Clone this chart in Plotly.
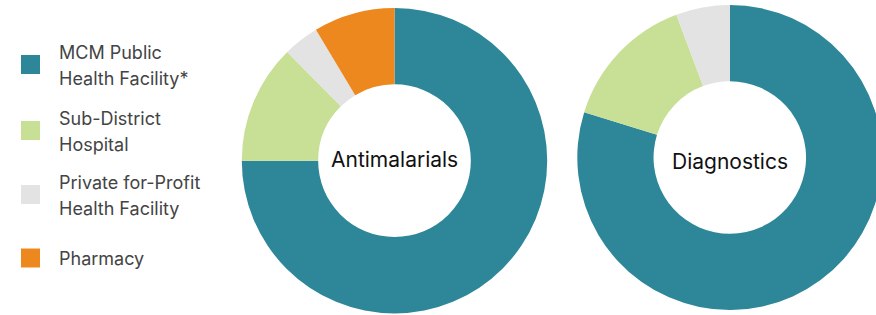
import plotly.graph_objects as go

categories = ["MCM Public<br>Health Facility*", "Sub-District<br>Hospital",
              "Private for-Profit<br>Health Facility", "Pharmacy"]
antimalarials = [75.0, 12.6, 3.8, 8.6]
diagnostics = [79.8, 14.5, 5.7, 0.0]
chart_titles = ["Antimalarials", "Diagnostics"]
colors = ["#2E8799", "#C8DF96", "#E3E3E3", "#EC881D"]

W, H = 884, 315
FONT = "Inter, Roboto, sans-serif"

fig = go.Figure()

# pie geometry (pixels): centre x, centre y (from top), radius, label y
geoms = [(394.5, 160.7, 152.7, 159.5), (729.8, 157.5, 152.5, 161.0)]
for vals, title, (cx, cy, r, ty) in zip([antimalarials, diagnostics], chart_titles, geoms):
    xd = [(cx - r) / W, (cx + r) / W]
    yc = 1 - cy / H
    hh = min(yc, 1 - yc)
    yd = [yc - hh, yc + hh]
    fig.add_trace(go.Pie(
        labels=categories, values=vals, hole=0.5, sort=False,
        direction="clockwise", rotation=0,
        marker=dict(colors=colors, line=dict(width=0)),
        textinfo="none", hoverinfo="label+percent", showlegend=False,
        domain=dict(x=xd, y=yd),
    ))
    fig.add_annotation(x=cx / W, y=1 - ty / H, xref="paper", yref="paper",
                       text=title, showarrow=False, xanchor="center", yanchor="middle",
                       font=dict(family=FONT, size=21, color="#111111"))

# custom legend
leg_centers = [64.5, 130.5, 194.5, 258.0]
for cat, col, yc in zip(categories, colors, leg_centers):
    fig.add_shape(type="rect", xref="paper", yref="paper",
                  x0=21 / W, x1=40 / W, y0=1 - (yc + 9.5) / H, y1=1 - (yc - 9.5) / H,
                  fillcolor=col, line=dict(width=0))
    lines = cat.split("<br>")
    n = len(lines)
    for i, ln in enumerate(lines):
        ly = yc + (i - (n - 1) / 2) * 26 + 0.8
        fig.add_annotation(x=57 / W, y=1 - ly / H, xref="paper", yref="paper",
                           text=ln, showarrow=False, xanchor="left", yanchor="middle",
                           align="left",
                           font=dict(family=FONT, size=18, color="#444444"))

fig.update_layout(width=W, height=H, margin=dict(l=0, r=0, t=0, b=0),
                  paper_bgcolor="white", plot_bgcolor="white")
fig.write_html("out.html", config={"displayModeBar": False},
               post_script="document.body.style.margin='0';document.body.style.overflow='hidden';")
